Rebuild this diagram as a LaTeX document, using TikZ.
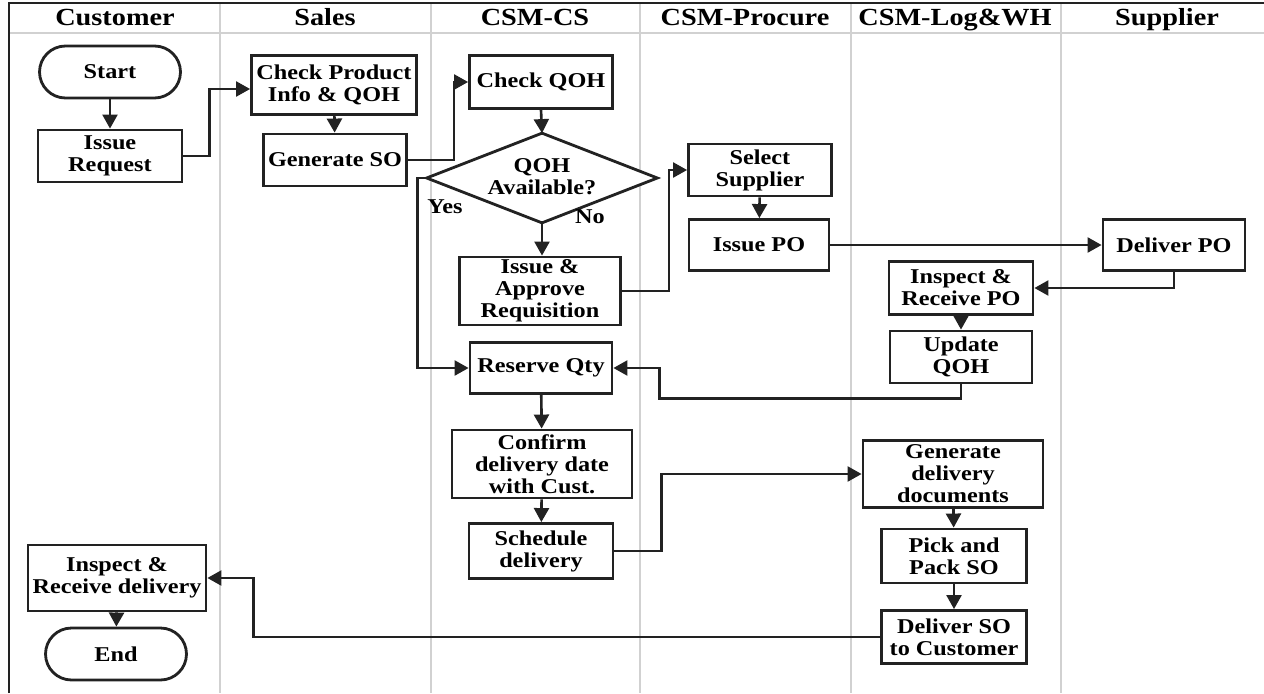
\documentclass[tikz,border=0pt]{standalone}
\usepackage{fontspec}
\setmainfont{Liberation Serif}[FakeStretch=1.15]
\usetikzlibrary{arrows.meta,shapes.geometric}
\definecolor{ink}{HTML}{222222}
\tikzset{
 box/.style={draw=ink, line width=1.6pt, align=center, inner sep=0pt, fill=white},
 term/.style={box, rounded corners=0.52cm},
 arr/.style={draw=ink, line width=1.5pt, -{Triangle[length=8pt,width=8.5pt]}},
 lane/.style={draw=black!18, line width=0.8pt},
 hdr/.style={font=\bfseries\fontsize{14}{14}\selectfont, inner sep=0pt, anchor=base}
}
\begin{document}
\begin{tikzpicture}[x=0.02cm,y=-0.02cm,font=\bfseries\fontsize{12}{12.5}\selectfont]
\fill[white] (0,0) rectangle (1264,693);
\useasboundingbox (0,0) rectangle (1264,693);
% lanes
\foreach \x in {220,431,640,851,1061} \draw[lane] (\x,3) -- (\x,693);
\draw[lane] (9,33) -- (1264,33);
\draw[ink, line width=1.2pt] (9,693) -- (9,3) -- (1264,3);
% headers
\node[hdr] (h1) at (115,26) {Customer};
\node[hdr] (h2) at (325,26) {Sales};
\node[hdr] (h3) at (535,26) {CSM-CS};
\node[hdr] (h4) at (745,26) {CSM-Procure};
\node[hdr] (h5) at (955,26) {CSM-Log\&WH};
\node[hdr] (h6) at (1167,26) {Supplier};
% nodes
\node[term, minimum width=2.82cm, minimum height=1.04cm] (start) at (110,72) {Start};
\node[box, minimum width=2.88cm, minimum height=1.04cm] (ireq) at (110,156) {Issue\\Request};
\node[box, minimum width=3.30cm, minimum height=1.18cm] (chk) at (334,85) {Check Product\\Info \& QOH};
\node[box, minimum width=2.86cm, minimum height=1.04cm] (gen) at (335,160) {Generate SO};
\node[box, minimum width=2.86cm, minimum height=1.06cm] (cqoh) at (541,82) {Check QOH};
\node[align=center, inner sep=0pt, minimum width=4.60cm, minimum height=1.78cm] (dia) at (542,178) {};
\draw[ink, line width=1.6pt, fill=white] (dia.north) -- (dia.east) -- (dia.south) -- (dia.west) -- cycle;
\node[align=center, inner sep=0pt] (diat) at (542,177) {QOH\\Available?};
\node[box, minimum width=3.22cm, minimum height=1.36cm] (iaa) at (540,291) {Issue \&\\Approve\\Requisition};
\node[box, minimum width=2.86cm, minimum height=1.04cm] (sel) at (760,170) {Select\\Supplier};
\node[box, minimum width=2.80cm, minimum height=1.02cm] (ipo) at (759,245) {Issue PO};
\node[box, minimum width=2.84cm, minimum height=1.02cm] (dpo) at (1174,245) {Deliver PO};
\node[box, minimum width=2.88cm, minimum height=1.06cm] (irpo) at (961,288) {Inspect \&\\Receive PO};
\node[box, minimum width=2.84cm, minimum height=1.04cm] (uq) at (961,357) {Update\\QOH};
\node[box, minimum width=2.84cm, minimum height=1.02cm] (res) at (541,368) {Reserve Qty};
\node[box, minimum width=3.60cm, minimum height=1.36cm] (conf) at (542,464) {Confirm\\delivery date\\with Cust.};
\node[box, minimum width=2.88cm, minimum height=1.10cm] (sch) at (541,551) {Schedule\\delivery};
\node[box, minimum width=3.60cm, minimum height=1.34cm] (gdd) at (953,474) {Generate\\delivery\\documents};
\node[box, minimum width=2.90cm, minimum height=1.08cm] (pick) at (954,556) {Pick and\\Pack SO};
\node[box, minimum width=2.90cm, minimum height=1.06cm] (dso) at (954,637) {Deliver SO\\to Customer};
\node[box, minimum width=3.56cm, minimum height=1.32cm] (ird) at (117,578) {Inspect \&\\Receive delivery};
\node[term, minimum width=2.82cm, minimum height=1.04cm] (end) at (116,654) {End};
\node[inner sep=0pt] (yes) at (445,207) {Yes};
\node[inner sep=0pt] (no) at (590,217) {No};
% connectors
\draw[arr] (start) -- (ireq);
\draw[arr] (ireq.east) -- ++(26,0) |- ([yshift=-0.08cm]chk.west);
\draw[arr] (chk) -- (gen);
\draw[arr] (gen.east) -- ++(46,0) |- (cqoh.west);
\draw[arr] (cqoh.south) -- (dia.north);
\draw[arr] (dia.west) -- ++(-9,0) |- (res.west);
\draw[arr] (dia.south) -- (dia.south |- iaa.north);
\draw[arr] (iaa.east) -- ++(47,0) |- (sel.west);
\draw[arr] (sel) -- (ipo);
\draw[arr] (ipo) -- (dpo);
\draw[arr] (dpo.south) |- (irpo.east);
\draw[arr] (irpo) -- (uq);
\draw[arr] (uq.south) -- ++(0,14) -| ([xshift=0.92cm]res.east) -- (res.east);
\draw[arr] (res) -- (conf);
\draw[arr] (conf) -- (sch);
\draw[arr] (sch.east) -- ++(47,0) |- (gdd.west);
\draw[arr] (gdd) -- (pick);
\draw[arr] (pick) -- (dso);
\draw[arr] (dso.west) -| ([xshift=0.92cm]ird.east) -- (ird.east);
\draw[arr] (ird) -- (end);
\end{tikzpicture}
\end{document}
